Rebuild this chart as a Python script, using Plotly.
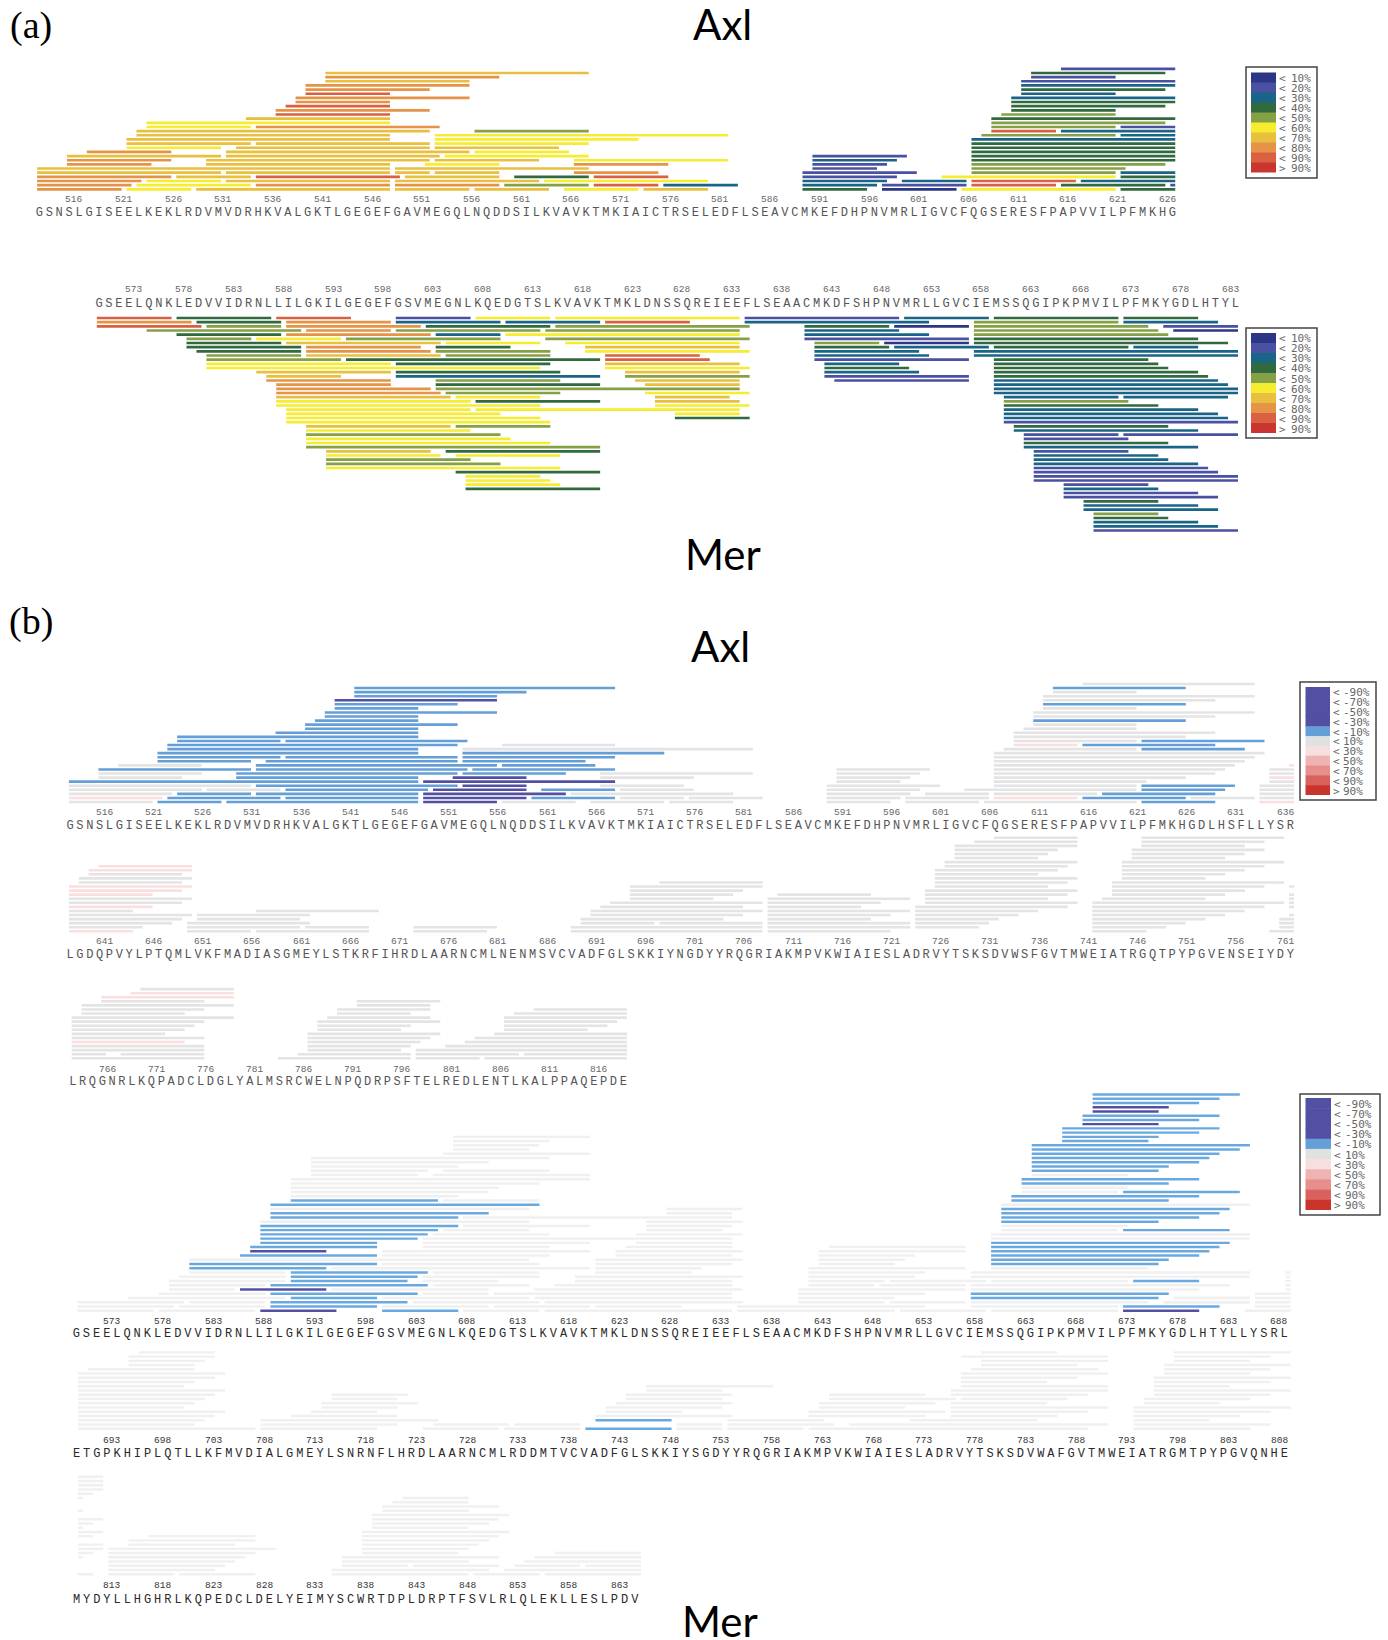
import plotly.graph_objects as go

W, H = 1388, 1640

# ---------- sequences ----------
SEQ_AXL_1 = "GSNSLGISEELKEKLRDVMVDRHKVALGKTLGEGEFGAVMEGQLNQDDSILKVAVKTMKIAICTRSELEDFLSEAVCMKEFDHPNVMRLIGVCFQGSERESFPAPVVILPFMKHGDLHSFLLYSR"
SEQ_AXL_2 = "LGDQPVYLPTQMLVKFMADIASGMEYLSTKRFIHRDLAARNCMLNENMSVCVADFGLSKKIYNGDYYRQGRIAKMPVKWIAIESLADRVYTSKSDVWSFGVTMWEIATRGQTPYPGVENSEIYDY"
SEQ_AXL_3 = "LRQGNRLKQPADCLDGLYALMSRCWELNPQDRPSFTELREDLENTLKALPPAQEPDE"
SEQ_MER_1 = "GSEELQNKLEDVVIDRNLLILGKILGEGEFGSVMEGNLKQEDGTSLKVAVKTMKLDNSSQREIEEFLSEAACMKDFSHPNVMRLLGVCIEMSSQGIPKPMVILPFMKYGDLHTYLLYSRL"
SEQ_MER_2 = "ETGPKHIPLQTLLKFMVDIALGMEYLSNRNFLHRDLAARNCMLRDDMTVCVADFGLSKKIYSGDYYRQGRIAKMPVKWIAIESLADRVYTSKSDVWAFGVTMWEIATRGMTPYPGVQNHE"
SEQ_MER_3 = "MYDYLLHGHRLKQPEDCLDELYEIMYSCWRTDPLDRPTFSVLRLQLEKLLESLPDV"

# ---------- peptides: (row, first residue, last residue, class) ----------
AXL_A = [
(29,615,626,20),
(28,541,567,70),(28,612,625,40),
(27,541,558,80),(27,612,620,20),
(26,541,555,70),(26,611,626,20),
(25,539,555,80),(25,611,626,30),
(24,539,551,80),(24,611,625,40),
(23,539,547,90),(23,611,620,30),
(22,538,555,80),(22,610,626,30),
(21,538,547,80),(21,610,626,40),
(20,537,547,90),(20,610,625,40),
(19,536,551,80),(19,610,620,40),
(18,536,547,90),(18,609,620,50),
(17,533,547,70),(17,608,626,40),
(16,523,547,60),(16,608,625,50),
(15,523,533,60),(15,534,552,80),(15,608,620,50),(15,621,626,20),
(14,522,551,70),(14,556,567,50),(14,608,614,90),(14,615,626,30),
(13,522,547,70),(13,552,581,60),(13,607,620,50),(13,621,626,30),
(12,521,547,70),(12,552,572,60),(12,606,626,30),
(11,521,533,70),(11,534,551,70),(11,552,567,60),(11,606,626,40),
(10,521,530,60),(10,532,551,70),(10,552,564,70),(10,606,626,40),
(9,517,525,80),(9,531,555,70),(9,556,565,60),(9,606,626,40),
(8,515,530,70),(8,531,552,70),(8,553,567,60),(8,590,599,20),(8,606,626,40),
(7,515,525,80),(7,529,551,70),(7,552,562,70),(7,566,581,60),(7,590,598,30),(7,606,626,40),
(6,515,523,80),(6,529,547,70),(6,551,558,60),(6,566,575,80),(6,590,597,20),(6,606,625,50),
(5,512,547,70),(5,548,567,70),(5,590,596,20),(5,606,621,50),
(4,512,530,70),(4,531,547,70),(4,548,551,70),(4,552,558,70),(4,566,574,80),(4,589,600,20),(4,606,620,50),(4,621,626,30),
(3,512,525,80),(3,526,533,70),(3,534,548,90),(3,549,558,70),(3,560,567,40),(3,568,575,90),(3,589,598,20),(3,603,620,60),(3,621,626,40),
(2,512,522,80),(2,523,530,60),(2,531,547,70),(2,548,562,70),(2,563,579,60),(2,589,597,30),(2,599,605,30),(2,606,616,90),(2,617,626,30),
(1,512,521,80),(1,522,533,60),(1,534,547,80),(1,548,558,80),(1,559,567,50),(1,568,574,90),(1,575,582,30),(1,589,596,30),(1,597,605,20),(1,606,614,90),(1,615,625,40),(1,626,626,20),
(0,512,520,80),(0,521,527,60),(0,528,547,70),(0,548,555,70),(0,556,563,70),(0,565,572,60),(0,573,579,70),(0,589,595,40),(0,597,604,10),(0,605,620,60),(0,621,626,40),
]

MER_A = [
(0,569,576,90),(0,577,586,40),(0,587,594,90),(0,599,606,20),(0,607,614,60),(0,615,633,60),(0,634,649,20),(0,650,658,30),(0,659,671,40),(0,672,679,40),
(1,569,578,80),(1,579,587,40),(1,588,598,80),(1,599,609,30),(1,610,619,30),(1,620,628,90),(1,634,652,30),(1,657,671,50),(1,672,681,30),
(2,569,579,90),(2,580,587,50),(2,588,601,80),(2,602,614,40),(2,615,634,50),(2,640,648,40),(2,649,656,10),(2,657,674,50),(2,676,683,20),
(3,574,589,50),(3,590,598,80),(3,599,613,50),(3,614,633,50),(3,640,649,30),(3,657,675,50),(3,677,683,10),
(4,577,587,40),(4,588,602,80),(4,603,609,30),(4,610,633,60),(4,640,652,30),(4,657,676,50),
(5,578,584,50),(5,585,593,60),(5,594,609,50),(5,614,634,50),(5,640,656,20),(5,657,679,40),
(6,578,587,40),(6,588,603,70),(6,604,613,60),(6,616,633,60),(6,641,647,50),(6,648,656,10),(6,657,682,40),
(7,578,589,40),(7,590,601,80),(7,603,610,40),(7,618,633,70),(7,641,648,40),(7,649,658,30),(7,659,672,40),(7,673,679,30),
(8,579,589,40),(8,590,602,80),(8,603,614,50),(8,618,634,60),(8,641,651,30),(8,657,683,30),
(9,580,589,50),(9,590,603,70),(9,604,614,50),(9,620,629,90),(9,641,652,30),(9,657,683,30),
(10,580,593,50),(10,594,619,40),(10,620,630,90),(10,641,656,20),(10,659,674,40),
(11,580,598,60),(11,599,614,40),(11,620,633,70),(11,642,649,30),(11,659,675,40),
(12,580,613,60),(12,620,634,60),(12,642,650,40),(12,659,676,40),
(13,585,598,70),(13,599,615,40),(13,622,633,70),(13,642,651,30),(13,659,679,40),
(14,586,593,70),(14,599,619,30),(14,622,634,50),(14,642,656,20),(14,659,680,40),
(15,586,598,80),(15,603,615,50),(15,623,633,70),(15,643,656,20),(15,659,681,30),
(16,587,598,80),(16,603,619,40),(16,624,633,70),(16,659,682,30),
(17,587,602,80),(17,603,633,50),(17,659,683,30),
(18,587,603,80),(18,604,615,50),(18,624,634,60),(18,659,683,30),
(19,587,604,70),(19,605,613,60),(19,625,632,70),(19,660,671,30),(19,672,682,30),
(20,587,606,60),(20,607,619,40),(20,625,633,70),(20,660,672,50),
(21,587,613,60),(21,625,634,60),(21,660,675,40),
(22,588,606,60),(22,607,633,60),(22,660,679,30),
(23,588,609,60),(23,627,633,60),(23,660,681,30),
(24,588,613,60),(24,627,634,40),(24,660,682,30),
(25,588,614,60),(25,660,683,20),
(26,590,604,70),(26,605,614,50),(26,661,676,40),
(27,590,606,60),(27,661,679,30),
(28,590,609,50),(28,662,671,20),(28,672,683,20),
(29,590,610,60),(29,662,672,20),
(30,590,614,60),(30,662,676,40),
(31,590,619,50),(31,662,679,30),
(32,592,602,70),(32,604,619,40),(32,663,672,20),
(33,592,603,60),(33,605,615,60),(33,663,675,30),
(34,592,606,50),(34,663,676,30),
(35,592,609,50),(35,663,679,30),
(36,592,615,60),(36,663,680,20),
(37,605,619,40),(37,663,681,20),
(38,606,613,60),(38,663,683,20),
(39,606,614,60),(39,663,683,20),
(40,606,615,60),(40,666,674,20),
(41,606,619,40),(41,666,675,30),
(42,666,679,20),(43,666,681,20),
(44,668,675,40),(45,668,679,30),(46,668,681,30),
(47,669,675,50),(48,669,676,40),(49,669,679,30),(50,669,681,30),(51,669,683,20),
]

AXL_B1 = [
(29,615,632,10),
(28,541,567,-10),(28,612,625,-10),
(27,541,558,-10),(27,612,620,10),
(26,541,555,-10),(26,611,632,10),
(25,539,555,-90),(25,611,628,10),
(24,539,551,-10),(24,611,625,-10),
(23,539,547,-10),(23,611,620,10),
(22,538,555,-10),(22,610,632,10),
(21,538,547,-10),(21,610,628,10),
(20,537,547,-10),(20,610,625,-10),
(19,536,551,-10),(19,610,620,10),
(18,536,547,-10),(18,609,620,10),
(17,533,547,-10),(17,608,628,10),
(16,523,547,-10),(16,608,625,10),
(15,523,533,-10),(15,534,552,-10),(15,608,620,10),(15,621,633,-10),
(14,522,551,-10),(14,556,567,10),(14,608,614,30),(14,615,628,-10),
(13,522,547,-10),(13,552,581,10),(13,607,620,10),(13,621,631,-10),
(12,521,547,-10),(12,552,572,-10),(12,606,633,10),
(11,521,533,-10),(11,534,551,-10),(11,552,567,-10),(11,606,632,10),
(10,521,530,-10),(10,532,551,-10),(10,552,564,-10),(10,606,631,10),
(9,517,525,10),(9,531,555,-10),(9,556,565,-10),(9,606,630,10),(9,636,636,30),
(8,515,530,-10),(8,531,552,-10),(8,553,567,-10),(8,590,599,10),(8,606,629,10),(8,634,636,10),
(7,515,525,10),(7,529,551,-10),(7,552,562,-10),(7,566,581,10),(7,590,598,10),(7,606,628,10),(7,634,636,10),
(6,515,523,10),(6,529,547,-10),(6,551,558,-90),(6,566,575,10),(6,590,597,10),(6,606,625,10),(6,634,636,30),
(5,512,547,-10),(5,548,567,-90),(5,590,596,10),(5,606,621,10),(5,634,636,10),
(4,512,530,10),(4,531,551,-10),(4,552,558,-90),(4,566,574,10),(4,589,600,10),(4,606,620,10),(4,621,630,-10),(4,633,636,10),
(3,512,525,10),(3,526,533,10),(3,534,548,-10),(3,549,558,-90),(3,560,567,-10),(3,568,575,10),(3,589,598,10),(3,603,620,10),(3,621,629,-10),(3,633,636,10),
(2,512,522,10),(2,523,530,-10),(2,531,547,-10),(2,548,562,-90),(2,563,579,10),(2,589,597,10),(2,599,605,10),(2,606,616,10),(2,617,628,-10),(2,633,636,10),
(1,512,521,30),(1,522,533,-10),(1,534,547,-10),(1,548,558,-90),(1,559,567,-10),(1,568,574,10),(1,575,582,10),(1,589,596,10),(1,597,605,10),(1,606,614,30),(1,615,625,-10),(1,626,632,10),(1,633,636,10),
(0,512,520,10),(0,521,527,-10),(0,528,547,-10),(0,548,555,-90),(0,556,563,10),(0,565,572,10),(0,573,579,10),(0,589,595,10),(0,597,604,10),(0,605,620,10),(0,621,628,-10),(0,633,636,30),
]

AXL_B2 = [
(16,640,649,30),(15,639,649,30),(14,639,648,10),(13,638,649,10),(12,638,648,10),
(11,637,649,30),(10,637,648,30),(9,637,645,30),(8,637,649,10),(7,637,648,10),(6,637,645,30),
(5,637,643,10),(5,656,668,10),(4,637,649,10),(4,650,661,10),(3,637,648,10),(3,650,660,10),
(2,637,647,10),(2,649,661,10),(1,637,644,10),(1,649,660,10),(1,661,667,10),(1,672,680,10),
(0,637,643,30),(0,649,655,10),(0,656,667,10),(0,672,679,10),
(12,697,707,10),(11,694,707,10),(10,694,705,10),(9,694,704,10),(8,694,702,10),(7,692,707,10),(6,691,705,10),
(5,690,707,10),(4,690,705,10),(3,689,703,10),(2,689,696,10),(2,697,707,10),(1,688,707,10),(0,688,707,10),
(9,709,718,10),(8,708,722,10),(7,708,719,10),(6,708,717,10),(5,708,722,10),(4,708,720,10),(3,708,718,10),(2,708,722,10),(1,708,722,10),(0,708,720,10),
(23,731,739,10),(22,729,739,10),(21,727,739,10),(20,727,737,10),(19,727,736,10),(18,727,735,10),(17,726,739,10),(16,726,738,10),
(15,725,737,10),(14,725,735,10),(13,725,739,10),(12,725,738,10),(11,725,736,10),(10,724,739,10),(9,724,738,10),(8,724,736,10),
(7,724,739,10),(6,723,738,10),(5,723,735,10),(4,723,733,10),(3,723,731,10),(2,723,730,10),(1,723,729,10),
(23,746,760,10),(22,746,758,10),(21,746,756,10),(20,745,758,10),(19,745,756,10),(18,745,754,10),(17,744,760,10),(16,744,758,10),
(15,744,756,10),(14,744,754,10),(13,744,752,10),(12,743,760,10),(11,743,758,10),(10,743,756,10),(9,743,754,10),(8,742,752,10),
(7,741,760,10),(6,741,758,10),(5,741,756,10),(4,741,754,10),(3,741,752,10),(2,741,750,10),(1,741,748,10),(0,741,746,10),
(11,761,761,10),(9,761,761,10),(8,761,761,10),(7,761,761,10),(6,761,761,10),(4,761,761,10),(3,760,761,10),(2,760,761,10),(1,760,761,10),(0,759,761,10),
]

AXL_B3 = [
(17,769,778,10),(16,768,778,30),(15,765,778,30),(14,765,775,10),(13,763,778,10),(12,763,775,10),(11,763,773,10),
(10,762,778,10),(9,762,775,10),(8,762,774,10),(7,762,773,10),(6,762,771,10),(5,762,775,10),(4,762,773,30),(3,762,775,10),(2,762,775,10),
(1,762,765,10),(1,767,775,10),(0,762,775,10),
(14,791,799,10),(13,791,798,10),(12,789,798,10),(11,789,796,10),(10,788,798,10),(9,787,799,10),(8,787,796,10),(7,787,795,10),
(6,786,799,10),(5,786,798,10),(4,786,797,10),(3,786,796,10),(2,786,795,10),(2,797,818,10),(1,785,796,10),(1,797,807,10),(1,808,818,10),
(0,783,796,10),(0,797,803,10),(0,804,818,10),
(12,809,818,10),(11,807,818,10),(10,806,818,10),(9,806,817,10),(8,806,816,10),(7,806,814,10),(6,805,818,10),(5,803,818,10),(4,802,818,10),(3,800,818,10),
]

# coloured Mer peptides in the difference map; the other peptides of MER_A stay in the grey class
MER_B1_COLOURED = [
(51,669,683,-10),(50,669,681,-10),(49,669,679,-10),(48,669,676,-90),(47,669,675,-90),(46,668,681,-10),(45,668,679,-10),(44,668,675,-90),
(43,666,681,-10),(42,666,679,-10),(41,666,675,-10),(40,666,674,-10),(39,663,684,-10),(38,663,683,-10),(37,663,681,-10),(36,663,680,-10),
(35,663,679,-10),(34,663,676,-10),(33,663,675,-10),(31,662,679,-10),(30,662,676,-10),(28,672,683,-10),(27,661,679,-10),(26,661,676,-10),
(24,660,682,-10),(23,660,681,-10),(22,660,679,-10),(21,660,675,-10),(19,672,682,-10),(16,659,682,-10),(15,659,681,-10),(14,659,680,-10),
(13,659,679,-10),(12,659,676,-10),(11,659,675,-10),(7,673,679,-10),(4,657,676,-10),(3,657,675,-10),(1,672,681,-10),(0,672,679,-90),
(26,590,604,-10),(25,588,614,-10),(23,588,609,-10),(22,588,606,-10),(20,587,606,-10),(19,587,604,-10),(18,587,603,-10),(17,587,602,-10),
(16,587,598,-10),(15,586,598,-10),(14,586,593,-90),(13,585,598,-10),(11,580,598,-10),(10,580,593,-10),(9,590,603,-10),(8,590,602,-10),
(7,590,601,-10),(6,588,603,-10),(5,585,593,-90),(4,588,602,-10),(3,590,598,-10),(2,588,601,-10),(1,588,598,-10),(0,587,594,-90),(0,599,606,-10),
]
MER_B1_EXTRA_GREY = [
(9,688,688,10),(8,688,688,10),(7,688,688,10),(6,688,688,10),(5,688,688,10),
(4,685,688,10),(3,685,688,10),(3,677,684,10),(2,685,688,10),(2,676,684,10),(1,685,688,10),(0,684,688,10),(18,660,684,10),
]

MER_B2 = [
(18,695,702,10),(17,694,702,10),(16,694,701,10),(15,694,700,10),(14,690,700,10),(13,689,703,10),(12,689,702,10),(11,689,700,10),(10,689,699,10),
(9,689,703,10),(8,689,702,10),(7,689,701,10),(6,689,700,10),(5,689,699,10),(4,689,703,10),(3,689,702,10),(2,689,701,10),(2,707,724,10),
(1,689,700,10),(1,707,720,10),(1,724,731,10),(1,732,738,10),(0,689,706,10),(0,707,718,10),(0,723,730,10),(0,731,738,10),
(8,714,721,10),(7,714,720,10),(6,713,722,10),(5,713,720,10),(4,712,718,10),(3,710,720,10),
(10,745,757,10),(9,745,752,10),(8,743,753,10),(7,743,752,10),(6,742,753,10),(5,741,752,10),(4,741,748,10),(3,740,753,10),
(2,740,747,-10),(2,753,762,10),(1,748,752,10),(1,753,763,10),(0,739,747,-10),(0,748,752,10),(0,753,760,10),
(8,763,772,10),(7,763,775,10),(6,762,773,10),(5,762,770,10),(4,761,774,10),(3,761,772,10),
(18,778,785,10),(17,776,790,10),(16,778,790,10),(15,778,787,10),(14,777,789,10),(13,776,790,10),(12,776,787,10),(11,776,784,10),(10,776,790,10),
(9,775,790,10),(8,775,788,10),(7,776,786,10),(6,775,784,10),(5,775,790,10),(4,775,788,10),(3,775,785,10),(2,771,783,10),(1,765,790,10),(0,761,788,10),
(18,797,808,10),(17,797,806,10),(16,797,804,10),(15,796,808,10),(14,796,806,10),(13,796,804,10),(12,795,808,10),(11,795,806,10),(10,795,802,10),
(9,795,808,10),(8,795,806,10),(7,794,804,10),(6,794,801,10),(5,793,808,10),(4,793,806,10),(3,793,803,10),(2,793,800,10),(1,793,806,10),(0,793,804,10),
]

MER_B3 = [
(23,809,811,10),(22,809,811,10),(21,809,811,10),(20,809,811,10),(19,809,810,10),(18,809,809,10),(15,809,809,10),(13,809,811,10),(12,809,810,10),(11,809,809,10),
(10,809,811,10),(9,809,810,10),(7,809,811,10),(6,809,811,10),(5,809,810,10),(4,809,809,10),(0,809,810,10),
(9,816,826,10),(8,814,826,10),(7,814,824,10),(6,812,828,10),(5,812,826,10),(4,812,825,10),(3,812,824,10),(2,812,823,10),(1,812,822,10),(0,812,818,10),(0,819,826,10),
(18,841,847,10),(17,840,847,10),(16,839,850,10),(15,839,847,10),(14,838,851,10),(13,838,850,10),(12,838,849,10),(11,838,847,10),(10,837,851,10),(9,837,850,10),
(8,837,849,10),(7,837,848,10),(6,837,847,10),(5,837,846,10),(4,835,850,10),(3,835,847,10),(2,835,841,10),(2,842,850,10),(1,834,849,10),(0,834,847,10),(0,848,854,10),
(5,856,864,10),(4,854,864,10),(3,853,864,10),(2,852,858,10),(2,859,864,10),(1,851,864,10),(0,855,864,10),
]

# ---------- legend content ----------
A_LEGEND_TEXT = ["10%", "20%", "30%", "40%", "50%", "60%", "70%", "80%", "90%", "90%"]
A_LEGEND_SIGN = ["<"] * 9 + [">"]
A_LEGEND_CLASS = [10, 20, 30, 40, 50, 60, 70, 80, 90, 100]
B_LEGEND_TEXT = ["-90%", "-70%", "-50%", "-30%", "-10%", "10%", "30%", "50%", "70%", "90%", "90%"]
B_LEGEND_SIGN = ["<"] * 10 + [">"]
B_LEGEND_COLOR = ["#5350a3", "#5350a3", "#5350a3", "#5350a3", "#659fd8", "#e0e2e1", "#f6dfdf", "#f0b3b3", "#e68f8b", "#da625e", "#c9352d"]

COL_A = {10: "#2b3784", 20: "#4a50a2", 30: "#1a6488", 40: "#316a3e", 50: "#86a046",
         60: "#f6ec30", 70: "#e9bf3f", 80: "#e59447", 90: "#d96040", 100: "#ca3530"}
COL_B = {10: "#e3e4e3", 30: "#f9dfdf", -10: "#659fd8", -90: "#5350a3"}
COL_B_MER = {10: "#f0f0f0", 30: "#f9dfdf", -10: "#6aa9e0", -90: "#5350a3"}

fig = go.Figure()
panel_no = 0
annos, shapes = [], []


def add_panel(bars, colours, seq, first, x0, step, row0, rstep, ly, ny, lab_x, lab_y,
              down=False, thick=0.64, letter_col="#555555", num_col="#666666", lfont=12, shift=0.0):
    """x0: pixel of the first letter; row0/rstep: pixel of row 0 and row pitch; ly/ny: letter/number pixel rows."""
    global panel_no
    panel_no += 1
    sfx = "" if panel_no == 1 else str(panel_no)
    xa, ya = "x" + sfx, "y" + sfx
    last = first + len(seq) - 1
    nrows = max(b[0] for b in bars) + 1
    for c, col in colours.items():
        sel = [b for b in bars if b[3] == c]
        if not sel:
            continue
        fig.add_trace(go.Bar(orientation="h", y=[b[0] for b in sel], base=[b[1] - 0.22 + shift for b in sel],
                             x=[b[2] - b[1] + 0.5 for b in sel], width=thick,
                             marker=dict(color=col, line=dict(width=0)),
                             hoverinfo="skip", showlegend=False, xaxis=xa, yaxis=ya))
    # residue numbers and the start label, placed on the x scale of the panel
    for t in range(first + 4, last + 1, 5):
        annos.append(dict(xref=xa, yref="paper", x=t - 0.52, y=1 - ny / H, text=str(t), showarrow=False,
                          xanchor="center", yanchor="middle",
                          font=dict(family="Liberation Mono", size=9.5, color=num_col)))
    annos.append(dict(xref=xa, yref="paper", x=first + (lab_x - x0) / step, y=1 - lab_y / H, text=str(first),
                      showarrow=False, xanchor="center", yanchor="middle",
                      font=dict(family="Liberation Mono", size=9.5, color=num_col)))
    left, right = x0 - step, x0 + step * (last - first + 1)
    if down:
        top, bottom = row0 - rstep, row0 + rstep * nrows
        yr = [nrows, -1]
        tick_len = max(1, top - ly - 10)
    else:
        top, bottom = row0 - rstep * nrows, row0 + rstep
        yr = [-1, nrows]
        tick_len = max(1, ly - bottom - 12)
    fig.layout["xaxis" + sfx] = dict(
        domain=[left / W, right / W], range=[first - 1, last + 1], anchor=ya, side="top" if down else "bottom",
        tickmode="array", tickvals=list(range(first, last + 1)), ticktext=list(seq), tickangle=0,
        tickfont=dict(family="Liberation Mono", size=lfont, color=letter_col),
        ticks="outside", ticklen=tick_len, tickwidth=1, tickcolor="rgba(0,0,0,0)",
        showgrid=False, zeroline=False, showline=False, automargin=False)
    fig.layout["yaxis" + sfx] = dict(
        domain=[1 - bottom / H, 1 - top / H], range=yr, anchor=xa, showticklabels=False, ticks="",
        showgrid=False, zeroline=False, showline=False, automargin=False)


mer_b1_grey = []
for k, s, e, _ in MER_A:
    hit = any(r == k and not (e < a or s > b) for r, a, b, _c in MER_B1_COLOURED)
    if not hit:
        mer_b1_grey.append((k, s, 684 if e == 683 else e, 10))
mer_b1 = mer_b1_grey + MER_B1_EXTRA_GREY + MER_B1_COLOURED

add_panel(AXL_A, COL_A, SEQ_AXL_1[:115], 512, 39.3, 9.94, 189.3, 4.155, 212.2, 199.5, 18, 211.7)
add_panel(MER_A, COL_A, SEQ_MER_1[:115], 569, 99, 9.967, 318, 4.167, 303.3, 290, 77.3, 302.3, down=True)
add_panel(AXL_B1, COL_B, SEQ_AXL_1, 512, 70.1, 9.84, 802, 4.07, 825.3, 812.3, 50, 824, shift=0.1)
add_panel(AXL_B2, COL_B, SEQ_AXL_2, 637, 70.1, 9.84, 931.3, 4.07, 954.3, 941.7, 49, 953, shift=0.1)
add_panel(AXL_B3, COL_B, SEQ_AXL_3, 762, 72.8, 9.83, 1058.3, 4.07, 1081.3, 1069, 52, 1080.3, shift=0.1)
add_panel(mer_b1, COL_B_MER, SEQ_MER_1, 569, 76.3, 10.15, 1310.7, 4.24, 1334, 1321.7, 54, 1334,
          thick=0.58, letter_col="#2a2a2a", num_col="#333333", shift=0.35)
add_panel(MER_B2, COL_B_MER, SEQ_MER_2, 689, 76.5, 10.15, 1428.7, 4.24, 1454, 1440.7, 54, 1454,
          thick=0.58, letter_col="#2a2a2a", num_col="#333333", shift=0.35)
add_panel(MER_B3, COL_B_MER, SEQ_MER_3, 809, 76.5, 10.15, 1574.3, 4.24, 1600, 1585.7, 54, 1600,
          thick=0.58, letter_col="#2a2a2a", num_col="#333333", shift=0.35)


def px_anno(x, y, text, size, family, color="#000000", anchor="center"):
    annos.append(dict(xref="paper", yref="paper", x=x / W, y=1 - y / H, text=text, showarrow=False,
                      xanchor=anchor, yanchor="middle", font=dict(family=family, size=size, color=color)))


def legend(bx0, by0, bx1, by1, sx0, sx1, sy0, sy1, colors, signs, texts, sign_x, text_x, anchor, size):
    n = len(colors)
    h = (sy1 - sy0) / n
    shapes.append(dict(type="rect", xref="paper", yref="paper", x0=bx0 / W, x1=bx1 / W, y0=1 - by0 / H, y1=1 - by1 / H,
                       line=dict(color="#444444", width=1.5), fillcolor="#ffffff"))
    for i in range(n):
        over = 0.6 if i < n - 1 else 0
        shapes.append(dict(type="rect", xref="paper", yref="paper", x0=sx0 / W, x1=sx1 / W,
                           y0=1 - (sy0 + i * h) / H, y1=1 - (sy0 + (i + 1) * h + over) / H,
                           line=dict(width=0), fillcolor=colors[i]))
    for i in range(n):
        yc = sy0 + (i + 0.6) * h
        px_anno(sign_x, yc, signs[i].replace("<", "&lt;").replace(">", "&gt;"), size, "DejaVu Sans Mono", "#666666", "left")
        px_anno(text_x, yc, texts[i], size, "DejaVu Sans Mono", "#666666", anchor)


cols_a = [COL_A[c] for c in A_LEGEND_CLASS]
legend(1246, 67, 1317, 178, 1251, 1276, 72.5, 172.5, cols_a, A_LEGEND_SIGN, A_LEGEND_TEXT, 1277, 1313, "right", 11)
legend(1246, 328, 1317, 438, 1251, 1276, 333, 433, cols_a, A_LEGEND_SIGN, A_LEGEND_TEXT, 1277, 1313, "right", 11)
legend(1300, 682, 1376, 800, 1305.5, 1330, 687, 795, B_LEGEND_COLOR, B_LEGEND_SIGN, B_LEGEND_TEXT, 1331, 1341, "left", 11)
legend(1300, 1094, 1380, 1215, 1305.5, 1331, 1098, 1210, B_LEGEND_COLOR, B_LEGEND_SIGN, B_LEGEND_TEXT, 1332, 1343, "left", 11)

px_anno(722, 24, "Axl", 42, "Lato")
px_anno(723, 554, "Mer", 42, "Lato")
px_anno(720, 646, "Axl", 42, "Lato")
px_anno(720, 1621, "Mer", 42, "Lato")
px_anno(31, 25, "(a)", 38, "Liberation Serif")
px_anno(31, 621, "(b)", 38, "Liberation Serif")

fig.update_layout(width=W, height=H, margin=dict(l=0, r=0, t=0, b=0), paper_bgcolor="white", plot_bgcolor="rgba(0,0,0,0)",
                  barmode="overlay", showlegend=False, shapes=shapes, annotations=annos)
fig.write_html("out.html", config=dict(displayModeBar=False),
               post_script="document.body.style.margin='0';document.body.style.overflow='hidden';")
